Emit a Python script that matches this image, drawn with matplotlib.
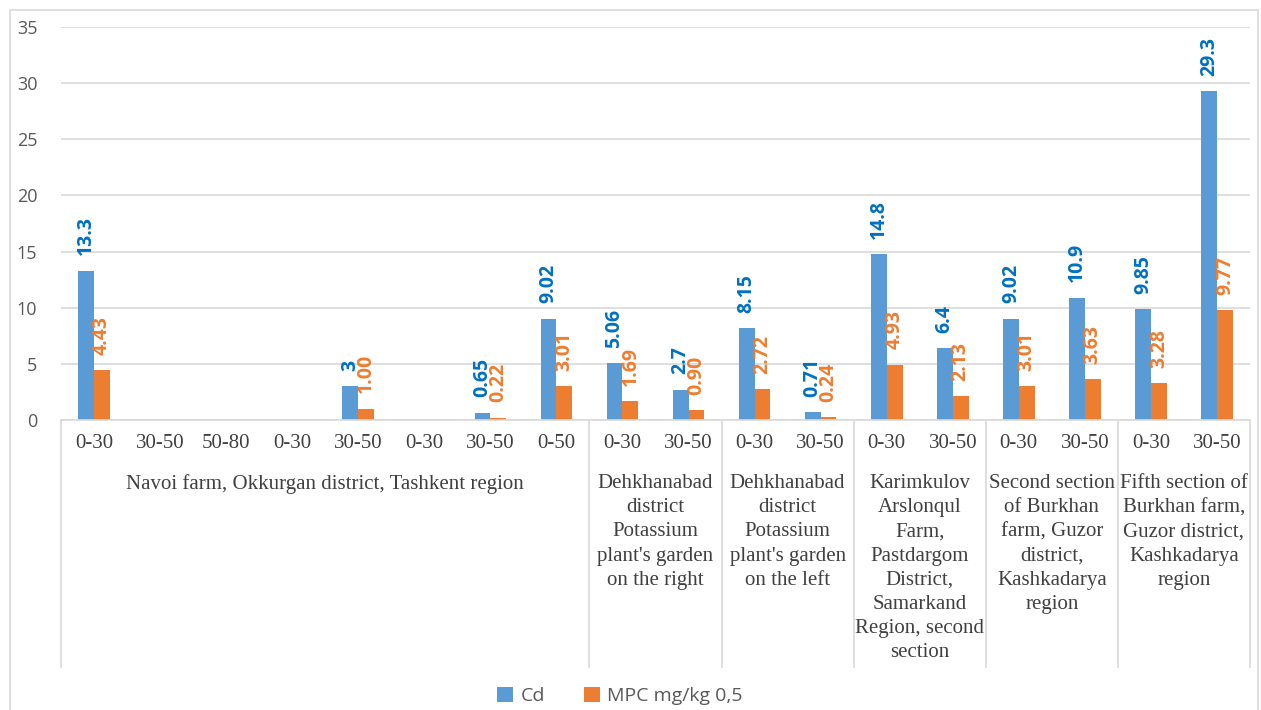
import matplotlib.pyplot as plt
import numpy as np
from matplotlib.patches import Rectangle

# data
depths = ["0-30", "30-50", "50-80", "0-30", "30-50", "0-30", "30-50", "0-50",
          "0-30", "30-50", "0-30", "30-50", "0-30", "30-50", "0-30", "30-50",
          "0-30", "30-50"]
cd_values = [13.3, 0, 0, 0, 3, 0, 0.65, 9.02, 5.06, 2.7, 8.15, 0.71, 14.8, 6.4,
             9.02, 10.9, 9.85, 29.3]
mpc_values = [4.43, 0, 0, 0, 1.00, 0, 0.22, 3.01, 1.69, 0.90, 2.72, 0.24, 4.93,
              2.13, 3.01, 3.63, 3.28, 9.77]
group_labels = [
    "Navoi farm, Okkurgan district, Tashkent region",
    "Dehkhanabad\ndistrict\nPotassium\nplant's garden\non the right",
    "Dehkhanabad\ndistrict\nPotassium\nplant's garden\non the left",
    "Karimkulov\nArslonqul\nFarm,\nPastdargom\nDistrict,\nSamarkand\nRegion, second\nsection",
    "Second section\nof Burkhan\nfarm, Guzor\ndistrict,\nKashkadarya\nregion",
    "Fifth section of\nBurkhan farm,\nGuzor district,\nKashkadarya\nregion",
]
group_sizes = [8, 2, 2, 2, 2, 2]
y_ticks = [0, 5, 10, 15, 20, 25, 30, 35]

BLUE = "#5B9BD5"
ORANGE = "#ED7D31"
BLUE_TEXT = "#0070C0"
GRID = "#D9D9D9"
TEXT = "#595959"

W, H = 1261, 710
fig = plt.figure(figsize=(W / 100, H / 100), dpi=100)
fig.patches.append(Rectangle((10 / W, -0.05), 1248 / W, 1.05 - 10 / H,
                             transform=fig.transFigure, fill=False,
                             edgecolor=GRID, linewidth=1.2))

left, right, top, bottom = 61, 1250, 27, 420
ax = fig.add_axes([left / W, 1 - bottom / H, (right - left) / W, (bottom - top) / H])
ax_h = bottom - top

x = np.arange(len(depths))
bw = 0.24
bars_cd = ax.bar(x - bw / 2, cd_values, bw, color=BLUE, label="Cd", zorder=2)
bars_mpc = ax.bar(x + bw / 2, mpc_values, bw, color=ORANGE, label="MPC mg/kg 0,5", zorder=2)

for xi, v in zip(x, cd_values):
    if v:
        ax.annotate(f"{v:g}", (xi - bw / 2, v), xytext=(0, 11), textcoords="offset points",
                    rotation=90, ha="center", va="bottom", color=BLUE_TEXT,
                    fontsize=14, fontweight="bold", family="Open Sans")
for xi, v in zip(x, mpc_values):
    if v:
        ax.annotate(f"{v:.2f}", (xi + bw / 2, v), xytext=(0, 11), textcoords="offset points",
                    rotation=90, ha="center", va="bottom", color=ORANGE,
                    fontsize=14, fontweight="bold", family="Open Sans")

ax.set_xlim(-0.5, len(depths) - 0.5)
ax.set_ylim(0, 35)
ax.set_yticks(y_ticks)
ax.tick_params(axis="y", length=0, pad=17, labelsize=13, labelcolor=TEXT)
for lab in ax.get_yticklabels():
    lab.set_family("Open Sans")
ax.yaxis.grid(True, color=GRID, linewidth=1.2, zorder=0)
ax.set_axisbelow(True)
ax.set_xticks([])
for side in ["left", "right", "top"]:
    ax.spines[side].set_visible(False)
ax.spines["bottom"].set_color(GRID)
ax.spines["bottom"].set_linewidth(1.2)

# multi-level category axis
trans = ax.get_xaxis_transform()
for xi, d in zip(x, depths):
    ax.text(xi, -23 / ax_h, d, transform=trans, ha="center", va="center",
            fontsize=15, family="Liberation Serif", color="#404040")

edges = np.concatenate([[0], np.cumsum(group_sizes)]) - 0.5
for e in edges:
    ax.plot([e, e], [0, -247 / ax_h], transform=trans, color=GRID,
            linewidth=1.2, clip_on=False)
for i, g in enumerate(group_labels):
    mid = (edges[i] + edges[i + 1]) / 2
    ax.text(mid, -54 / ax_h, g, transform=trans, ha="center", va="top",
            fontsize=15, family="Liberation Serif", color="#404040",
            linespacing=1.37)

fig.legend(handles=[bars_cd, bars_mpc], loc="center", bbox_to_anchor=(620 / W, 1 - 696 / H),
           ncol=2, frameon=False, prop={"family": "Open Sans", "size": 14},
           labelcolor=TEXT, handlelength=0.8, handleheight=0.8, columnspacing=2.0,
           handletextpad=0.4)

fig.savefig("out.png", dpi=100)
